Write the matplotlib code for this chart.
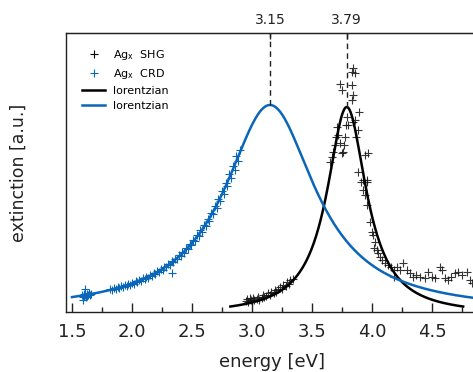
import numpy as np
import matplotlib
matplotlib.use("Agg")
import matplotlib.pyplot as plt
from matplotlib.lines import Line2D

# CRD data (blue crosses), energy in eV, extinction in a.u.
crd_e = [1.585, 1.592, 1.594, 1.598, 1.603, 1.608, 1.612, 1.617, 1.622, 1.628,
         1.634, 1.640, 1.647, 1.655,
         1.82, 1.835, 1.85, 1.865, 1.88, 1.895, 1.91, 1.925, 1.94, 1.955,
         1.97, 1.985, 2.0, 2.015, 2.03, 2.045, 2.06, 2.075, 2.09, 2.105,
         2.12, 2.135, 2.15, 2.165, 2.18, 2.195, 2.21, 2.225, 2.24, 2.255,
         2.27, 2.285, 2.3, 2.315, 2.33, 2.332, 2.345, 2.36, 2.375, 2.39,
         2.405, 2.42, 2.435, 2.45, 2.465, 2.48, 2.495, 2.51, 2.525, 2.54,
         2.555, 2.57, 2.585, 2.6, 2.615, 2.63, 2.645, 2.66, 2.675, 2.69,
         2.705, 2.72, 2.735, 2.75, 2.765, 2.78, 2.795, 2.81, 2.825, 2.84,
         2.855, 2.87, 2.885, 2.9]
crd_v = [17.5, 15.0, 12.5, 18.5, 16.0, 23.0, 17.0, 15.5, 18.0, 16.5,
         17.5, 19.0, 17.0, 18.0,
         22.8, 21.9, 23.6, 22.9, 24.8, 23.8, 25.6, 24.9, 26.9, 26.0,
         27.9, 27.2, 29.3, 28.4, 30.6, 29.9, 32.0, 31.3, 33.6, 32.8,
         35.2, 34.5, 37.0, 36.2, 38.9, 38.1, 40.9, 40.1, 43.1, 42.3,
         45.4, 44.6, 47.9, 47.1, 50.6, 39.0, 49.8, 53.5, 52.7, 56.7,
         55.9, 60.1, 59.2, 63.8, 62.9, 67.8, 66.8, 72.1, 71.0, 76.8,
         75.6, 81.8, 80.5, 87.3, 85.9, 93.2, 91.5, 99.5, 97.6, 106.2,
         104.1, 113.4, 111.0, 121.0, 118.4, 129.2, 126.1, 137.7, 134.2, 146.5,
         142.5, 155.6, 151.0, 162.0]

# SHG data (black crosses)
shg_e = [2.95, 2.96, 2.97, 2.98, 2.99, 3.0, 3.01, 3.02, 3.04, 3.05,
         3.06, 3.08, 3.09, 3.1, 3.12, 3.13, 3.15, 3.16, 3.18, 3.19,
         3.2, 3.22, 3.23, 3.25, 3.26, 3.28, 3.29, 3.31, 3.32, 3.34,
         3.65, 3.664, 3.678, 3.69, 3.70, 3.705, 3.72, 3.733, 3.747, 3.76,
         3.767, 3.775, 3.783, 3.789, 3.80, 3.84, 3.86, 3.87, 3.886, 3.895,
         3.83, 3.84, 3.733, 3.747, 3.83, 3.84, 3.83, 3.86, 3.94, 3.97,
         3.886, 3.91, 3.955,
         3.928, 3.955, 3.928, 3.94, 3.955, 3.98, 3.997, 4.01, 4.025, 4.017,
         4.04, 4.05, 4.067, 4.08, 4.11, 4.136, 4.16, 4.18, 4.18, 4.205,
         4.23, 4.26, 4.29, 4.32, 4.34, 4.37, 4.40, 4.44, 4.47, 4.50,
         4.525, 4.567, 4.58, 4.61, 4.636, 4.66, 4.69, 4.72, 4.75, 4.79,
         4.82, 4.83]
shg_v = [11, 13, 10, 14, 12, 11, 14, 12, 13, 15,
         12, 14, 17, 15, 16, 19, 17, 20, 19, 22,
         20, 23, 25, 23, 27, 26, 30, 28, 32, 33,
         150, 155, 160, 167, 175, 185, 177, 169, 159, 160,
         167, 175, 187, 195, 187, 190, 192, 175, 182, 200,
         212, 217, 228, 222, 227, 244, 240, 239, 157, 159,
         140, 130, 132,
         132, 130, 122, 117, 107, 90, 80, 77, 70, 64,
         62, 59, 55, 52, 49, 47, 45, 42, 35, 45,
         42, 49, 42, 39, 35, 37, 35, 34, 40, 35,
         34, 45, 42, 34, 32, 35, 39, 40, 37, 40,
         32, 29]

# lorentzian fit parameters: center, half width, amplitude, offset
peaks = [3.15, 3.79]
crd_fit = (3.15, 0.46, 207.0, 0.0)
shg_fit = (3.79, 0.20, 208.0, -3.0)

blue = "#0a66b8"


def lorentz(x, x0, g, a, c):
    return a * g**2 / ((x - x0)**2 + g**2) + c


fig = plt.figure(figsize=(4.73, 3.72), dpi=100)
ax = fig.add_axes([66/473, 60/372, 407/473, 279/372])

xb = np.linspace(1.5, 4.85, 400)
xk = np.linspace(2.82, 4.76, 400)

ax.plot(crd_e, crd_v, ls="none", marker="+", ms=5.5, mew=0.8, color=blue)
ax.plot(shg_e, shg_v, ls="none", marker="+", ms=5.5, mew=0.8, color="#111111", alpha=0.85)
ax.plot(xk, lorentz(xk, *shg_fit), color="black", lw=1.8)
ax.plot(xb, lorentz(xb, *crd_fit), color=blue, lw=1.8)

peak_vals = [lorentz(p, *f) for p, f in zip(peaks, [crd_fit, shg_fit])]
ax.vlines(peaks, peak_vals, 279, colors="#222222", lw=1.0, linestyles=(0, (4, 3)))

ax.set_xlim(1.45, 4.842)
ax.set_ylim(0, 279)

ax.set_xticks([1.5, 2.0, 2.5, 3.0, 3.5, 4.0, 4.5])
ax.set_xticklabels(["1.5", "2.0", "2.5", "3.0", "3.5", "4.0", "4.5"])
ax.set_xticks(np.arange(1.5, 4.8, 0.25), minor=True)
ax.tick_params(axis="x", which="major", direction="in", length=6.5, width=1.0,
               labelsize=13, pad=8, colors="#222222")
ax.tick_params(axis="x", which="minor", direction="in", length=3.5, width=1.0,
               colors="#222222")
ax.set_yticks([])

for s in ["left", "bottom", "top"]:
    ax.spines[s].set_color("#222222")
    ax.spines[s].set_linewidth(1.0)
ax.spines["right"].set_visible(False)

secax = ax.secondary_xaxis("top")
secax.set_xticks(peaks)
secax.set_xticklabels(["3.15", "3.79"])
secax.tick_params(direction="in", length=4, width=1.0, labelsize=10, pad=4,
                  colors="#222222")
secax.spines["top"].set_color("#222222")

ax.set_xlabel("energy [eV]", fontsize=13, color="#222222")
ax.xaxis.set_label_coords(0.506, -0.147)
ax.set_ylabel("extinction [a.u.]", fontsize=12.5, color="#222222")
ax.yaxis.set_label_coords(-0.094, 0.5)

handles = [
    Line2D([], [], ls="none", marker="+", ms=5.5, mew=0.8, color="black"),
    Line2D([], [], ls="none", marker="+", ms=5.5, mew=0.8, color=blue),
    Line2D([], [], color="black", lw=1.8),
    Line2D([], [], color=blue, lw=1.8),
]
labels = ["Ag$_\\mathrm{x}$  SHG", "Ag$_\\mathrm{x}$  CRD", "lorentzian", "lorentzian"]
ax.legend(handles, labels, loc="upper left", bbox_to_anchor=(0.039, 0.945),
          frameon=False, fontsize=8, handlelength=2.1, handletextpad=0.7,
          labelspacing=0.45, borderpad=0, borderaxespad=0)

fig.savefig("out.png", dpi=100)
